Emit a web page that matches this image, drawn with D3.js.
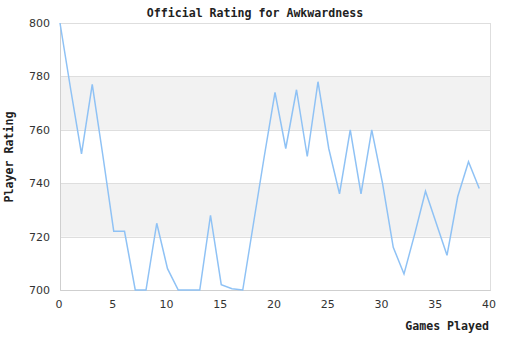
<!DOCTYPE html>
<html>
<head>
<meta charset="utf-8">
<script src="https://cdn.jsdelivr.net/npm/d3@7"></script>
<style>
  html, body { margin: 0; padding: 0; background: #fff; }
  svg { display: block; }
</style>
</head>
<body>
<svg id="chart" width="510" height="340"></svg>
<script>
// Rating after each game
const games = d3.range(0, 40);
const ratings = [800, 775, 751, 777, 750, 722, 722, 700, 700, 725,
                 708, 700, 700, 700, 728, 702, 700.5, 700, 725, 750,
                 774, 753, 775, 750, 778, 753, 736, 760, 736, 760,
                 740, 716, 706, 721, 737, 725, 713, 735, 748, 738];
const xTicks = [0, 5, 10, 15, 20, 25, 30, 35, 40];
const yTicks = [700, 720, 740, 760, 780, 800];
const bands = [[720, 740], [760, 780]];

const svg = d3.select("#chart");
const plot = { left: 60, right: 490, top: 23, bottom: 290 };

const x = d3.scaleLinear().domain([0, 40]).range([plot.left, plot.right]);
const y = d3.scaleLinear().domain([700, 800]).range([plot.bottom, plot.top]);

// alternating shaded bands
svg.selectAll("rect.band").data(bands).join("rect")
  .attr("class", "band")
  .attr("x", plot.left).attr("width", plot.right - plot.left)
  .attr("y", d => y(d[1])).attr("height", d => y(d[0]) - y(d[1]))
  .attr("fill", "#f2f2f2");

// horizontal grid lines
svg.selectAll("line.grid").data(yTicks).join("line")
  .attr("class", "grid")
  .attr("x1", plot.left).attr("x2", plot.right)
  .attr("y1", d => Math.round(y(d)) + 0.5).attr("y2", d => Math.round(y(d)) + 0.5)
  .attr("stroke", "#dedede");

// frame
svg.append("rect")
  .attr("x", plot.left + 0.5).attr("y", plot.top + 0.5)
  .attr("width", plot.right - plot.left).attr("height", plot.bottom - plot.top)
  .attr("fill", "none").attr("stroke", "#dedede");

// y axis
const yAxis = d3.axisLeft(y).tickValues(yTicks).tickSize(0).tickPadding(10);
const gy = svg.append("g").attr("transform", `translate(${plot.left},0)`).call(yAxis);
gy.select(".domain").attr("stroke", "#cfcfcf");
gy.selectAll("text").attr("font-family", "'DejaVu Sans', sans-serif")
  .attr("font-size", 11).attr("fill", "#333");

// x axis
const xAxis = d3.axisBottom(x).tickValues(xTicks).tickSize(0).tickPadding(10);
const gx = svg.append("g").attr("transform", `translate(0,${plot.bottom})`).call(xAxis);
gx.select(".domain").attr("stroke", "#cfcfcf");
gx.selectAll("text").attr("font-family", "'DejaVu Sans', sans-serif")
  .attr("font-size", 11).attr("fill", "#333")
  .attr("dx", -1.5);

// rating line
const line = d3.line().x((d, i) => x(games[i])).y(d => y(d));
svg.append("path").datum(ratings)
  .attr("d", line)
  .attr("fill", "none")
  .attr("stroke", "#8fc2f5")
  .attr("stroke-width", 1.5)
  .attr("stroke-linejoin", "miter");

// titles
const mono = "'DejaVu Sans Mono', 'Liberation Mono', monospace";
svg.append("text").attr("x", 255).attr("y", 17).attr("text-anchor", "middle")
  .attr("font-family", mono).attr("font-weight", "bold").attr("font-size", 11.6)
  .attr("fill", "#222").text("Official Rating for Awkwardness");

svg.append("text").attr("x", 489).attr("y", 330).attr("text-anchor", "end")
  .attr("font-family", mono).attr("font-weight", "bold").attr("font-size", 11.6)
  .attr("fill", "#222").text("Games Played");

svg.append("text").attr("transform", "translate(13,157) rotate(-90)")
  .attr("text-anchor", "middle")
  .attr("font-family", mono).attr("font-weight", "bold").attr("font-size", 11.6)
  .attr("fill", "#222").text("Player Rating");
</script>
</body>
</html>
